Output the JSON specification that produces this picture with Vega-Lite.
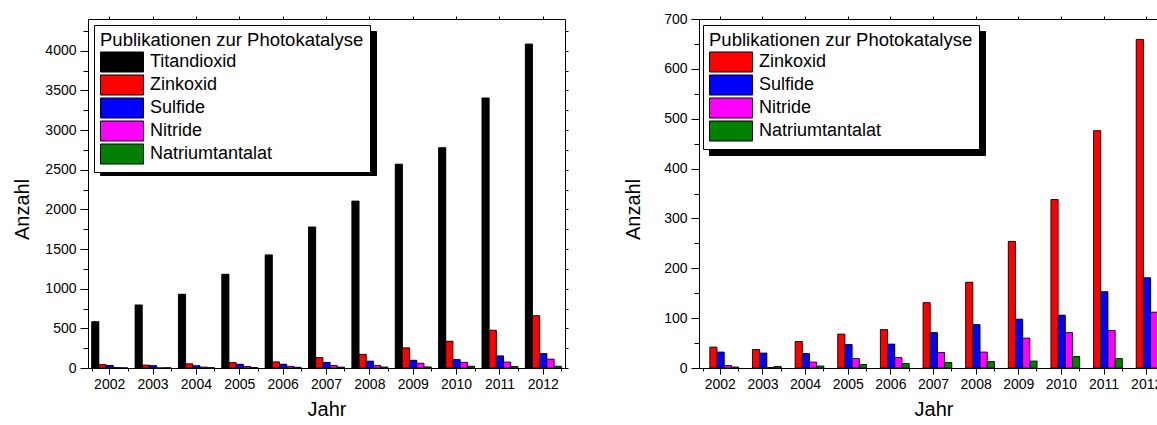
{
  "$schema": "https://vega.github.io/schema/vega-lite/v6.json",
  "padding": {"left": 11, "top": 11, "right": 0, "bottom": 0},
  "bounds": "flush",
  "spacing": 134,
  "config": {
    "font": "Liberation Sans",
    "view": {"stroke": "black", "strokeWidth": 1},
    "axis": {
      "labelFont": "Liberation Sans", "titleFont": "Liberation Sans",
      "labelColor": "black", "titleColor": "black", "tickColor": "black", "domainColor": "black",
      "grid": false, "labelFontSize": 14, "titleFontSize": 20, "titleFontWeight": "normal", "labelAngle": 0
    },
    "legend": {
      "orient": "none", "titleFont": "Liberation Sans", "labelFont": "Liberation Sans",
      "titleFontSize": 18.5, "titleFontWeight": "normal", "labelFontSize": 18,
      "titleLimit": 500, "labelLimit": 400,
      "symbolType": "M-1,-1H3.3V1H-1Z", "symbolSize": 400, "symbolStrokeWidth": 1,
      "labelOffset": 29, "rowPadding": -2, "padding": 6, "titlePadding": 2, "symbolOpacity": 1
    }
  },
  "datasets": {
    "pub": [
      {"Jahr": "2002", "Serie": "Titandioxid", "Anzahl": 584},
      {"Jahr": "2003", "Serie": "Titandioxid", "Anzahl": 795},
      {"Jahr": "2004", "Serie": "Titandioxid", "Anzahl": 930},
      {"Jahr": "2005", "Serie": "Titandioxid", "Anzahl": 1182},
      {"Jahr": "2006", "Serie": "Titandioxid", "Anzahl": 1426},
      {"Jahr": "2007", "Serie": "Titandioxid", "Anzahl": 1779},
      {"Jahr": "2008", "Serie": "Titandioxid", "Anzahl": 2105},
      {"Jahr": "2009", "Serie": "Titandioxid", "Anzahl": 2570},
      {"Jahr": "2010", "Serie": "Titandioxid", "Anzahl": 2778},
      {"Jahr": "2011", "Serie": "Titandioxid", "Anzahl": 3405},
      {"Jahr": "2012", "Serie": "Titandioxid", "Anzahl": 4085},
      {"Jahr": "2002", "Serie": "Zinkoxid", "Anzahl": 42},
      {"Jahr": "2003", "Serie": "Zinkoxid", "Anzahl": 37},
      {"Jahr": "2004", "Serie": "Zinkoxid", "Anzahl": 53},
      {"Jahr": "2005", "Serie": "Zinkoxid", "Anzahl": 68},
      {"Jahr": "2006", "Serie": "Zinkoxid", "Anzahl": 77},
      {"Jahr": "2007", "Serie": "Zinkoxid", "Anzahl": 131},
      {"Jahr": "2008", "Serie": "Zinkoxid", "Anzahl": 172},
      {"Jahr": "2009", "Serie": "Zinkoxid", "Anzahl": 254},
      {"Jahr": "2010", "Serie": "Zinkoxid", "Anzahl": 338},
      {"Jahr": "2011", "Serie": "Zinkoxid", "Anzahl": 476},
      {"Jahr": "2012", "Serie": "Zinkoxid", "Anzahl": 659},
      {"Jahr": "2002", "Serie": "Sulfide", "Anzahl": 32},
      {"Jahr": "2003", "Serie": "Sulfide", "Anzahl": 30},
      {"Jahr": "2004", "Serie": "Sulfide", "Anzahl": 29},
      {"Jahr": "2005", "Serie": "Sulfide", "Anzahl": 47},
      {"Jahr": "2006", "Serie": "Sulfide", "Anzahl": 48},
      {"Jahr": "2007", "Serie": "Sulfide", "Anzahl": 71},
      {"Jahr": "2008", "Serie": "Sulfide", "Anzahl": 87},
      {"Jahr": "2009", "Serie": "Sulfide", "Anzahl": 98},
      {"Jahr": "2010", "Serie": "Sulfide", "Anzahl": 106},
      {"Jahr": "2011", "Serie": "Sulfide", "Anzahl": 153},
      {"Jahr": "2012", "Serie": "Sulfide", "Anzahl": 181},
      {"Jahr": "2002", "Serie": "Nitride", "Anzahl": 5},
      {"Jahr": "2003", "Serie": "Nitride", "Anzahl": 1},
      {"Jahr": "2004", "Serie": "Nitride", "Anzahl": 12},
      {"Jahr": "2005", "Serie": "Nitride", "Anzahl": 19},
      {"Jahr": "2006", "Serie": "Nitride", "Anzahl": 21},
      {"Jahr": "2007", "Serie": "Nitride", "Anzahl": 31},
      {"Jahr": "2008", "Serie": "Nitride", "Anzahl": 32},
      {"Jahr": "2009", "Serie": "Nitride", "Anzahl": 60},
      {"Jahr": "2010", "Serie": "Nitride", "Anzahl": 71},
      {"Jahr": "2011", "Serie": "Nitride", "Anzahl": 75},
      {"Jahr": "2012", "Serie": "Nitride", "Anzahl": 112},
      {"Jahr": "2002", "Serie": "Natriumtantalat", "Anzahl": 2},
      {"Jahr": "2003", "Serie": "Natriumtantalat", "Anzahl": 3},
      {"Jahr": "2004", "Serie": "Natriumtantalat", "Anzahl": 4},
      {"Jahr": "2005", "Serie": "Natriumtantalat", "Anzahl": 7},
      {"Jahr": "2006", "Serie": "Natriumtantalat", "Anzahl": 9},
      {"Jahr": "2007", "Serie": "Natriumtantalat", "Anzahl": 11},
      {"Jahr": "2008", "Serie": "Natriumtantalat", "Anzahl": 13},
      {"Jahr": "2009", "Serie": "Natriumtantalat", "Anzahl": 14},
      {"Jahr": "2010", "Serie": "Natriumtantalat", "Anzahl": 23},
      {"Jahr": "2011", "Serie": "Natriumtantalat", "Anzahl": 19},
      {"Jahr": "2012", "Serie": "Natriumtantalat", "Anzahl": 22}
    ]
  },
  "hconcat": [
    {
      "width": 477,
      "height": 349,
      "data": {"name": "pub"},
      "layer": [
        {
          "mark": {"type": "bar"},
          "encoding": {
            "x": {"field": "Jahr", "type": "ordinal", "scale": {"paddingInner": 0.17, "paddingOuter": 0.085},
              "axis": {"orient": "bottom", "labels": false, "tickBand": "extent", "tickSize": 3, "domain": false, "title": null}},
            "xOffset": {"field": "Serie", "type": "nominal", "scale": {"domain": ["Titandioxid", "Zinkoxid", "Sulfide", "Nitride", "Natriumtantalat"]}},
            "y": {"field": "Anzahl", "type": "quantitative", "scale": {"domain": [0, 4400], "nice": false},
              "axis": {"orient": "left", "values": [250, 750, 1250, 1750, 2250, 2750, 3250, 3750, 4250], "labels": false, "tickSize": 5, "domain": false, "title": null}},
            "color": {"field": "Serie", "type": "nominal",
              "scale": {"domain": ["Titandioxid", "Zinkoxid", "Sulfide", "Nitride", "Natriumtantalat"], "range": ["#000000", "#000000", "#000000", "#000000", "#000000"]},
              "legend": {"title": null, "labelExpr": "''", "legendX": 12, "legendY": 12, "fillColor": "#000000", "strokeColor": "#000000", "labelColor": "#000000", "symbolStrokeColor": "#000000", "symbolType": "M-1,-1.1H25.1V1.1H-1Z", "rowPadding": 0, "zindex": 1}}
          }
        },
        {
          "mark": {"type": "bar", "stroke": "#000000", "strokeWidth": 0.8},
          "encoding": {
            "x": {"field": "Jahr", "type": "ordinal",
              "axis": {"orient": "bottom", "tickSize": 6, "labelPadding": 3, "title": "Jahr", "titlePadding": 8}},
            "xOffset": {"field": "Serie", "type": "nominal"},
            "y": {"field": "Anzahl", "type": "quantitative",
              "axis": {"orient": "left", "values": [0, 500, 1000, 1500, 2000, 2500, 3000, 3500, 4000], "format": "d", "tickSize": 8, "labelPadding": 4, "title": "Anzahl", "titleY": 190, "titleX": -56}},
            "color": {"field": "Serie", "type": "nominal",
              "scale": {"domain": ["Titandioxid", "Zinkoxid", "Sulfide", "Nitride", "Natriumtantalat"], "range": ["#000000", "#ff0000", "#0000ff", "#ff00ff", "#008000"]},
              "legend": {"title": "Publikationen zur Photokatalyse", "legendX": 6, "legendY": 6, "fillColor": "#ffffff", "strokeColor": "#000000", "titleColor": "#000000", "labelColor": "#000000", "symbolStrokeColor": "#000000", "zindex": 2}}
          }
        },
        {
          "mark": {"type": "bar", "opacity": 0},
          "encoding": {
            "x": {"field": "Jahr", "type": "ordinal",
              "axis": {"orient": "top", "labels": false, "tickSize": 3, "domain": false, "title": null}},
            "y": {"field": "Anzahl", "type": "quantitative", "stack": null,
              "axis": {"orient": "right", "values": [0, 250, 500, 750, 1000, 1250, 1500, 1750, 2000, 2250, 2500, 2750, 3000, 3250, 3500, 3750, 4000, 4250], "labels": false, "tickSize": 3, "domain": false, "title": null}}
          }
        }
      ],
      "resolve": {"axis": {"x": "independent", "y": "independent"}, "scale": {"color": "independent"}, "legend": {"color": "independent"}}
    },
    {
      "width": 469,
      "height": 349,
      "data": {"name": "pub"},
      "transform": [{"filter": "datum.Serie !== 'Titandioxid'"}],
      "layer": [
        {
          "mark": {"type": "bar"},
          "encoding": {
            "x": {"field": "Jahr", "type": "ordinal", "scale": {"paddingInner": 0.17, "paddingOuter": 0.085},
              "axis": {"orient": "bottom", "labels": false, "tickBand": "extent", "tickSize": 3, "domain": false, "title": null}},
            "xOffset": {"field": "Serie", "type": "nominal", "scale": {"domain": ["Titandioxid", "Zinkoxid", "Sulfide", "Nitride", "Natriumtantalat"]}},
            "y": {"field": "Anzahl", "type": "quantitative", "scale": {"domain": [0, 700], "nice": false},
              "axis": {"orient": "left", "values": [50, 150, 250, 350, 450, 550, 650], "labels": false, "tickSize": 5, "domain": false, "title": null}},
            "color": {"field": "Serie", "type": "nominal",
              "scale": {"domain": ["Zinkoxid", "Sulfide", "Nitride", "Natriumtantalat"], "range": ["#000000", "#000000", "#000000", "#000000"]},
              "legend": {"title": null, "labelExpr": "''", "legendX": 10, "legendY": 12, "fillColor": "#000000", "strokeColor": "#000000", "labelColor": "#000000", "symbolStrokeColor": "#000000", "symbolType": "M-1,-1.2H25.1V1.2H-1Z", "rowPadding": 0, "zindex": 1}}
          }
        },
        {
          "mark": {"type": "bar", "stroke": "#000000", "strokeWidth": 0.8},
          "encoding": {
            "x": {"field": "Jahr", "type": "ordinal",
              "axis": {"orient": "bottom", "tickSize": 6, "labelPadding": 3, "title": "Jahr", "titlePadding": 8}},
            "xOffset": {"field": "Serie", "type": "nominal"},
            "y": {"field": "Anzahl", "type": "quantitative",
              "axis": {"orient": "left", "values": [0, 100, 200, 300, 400, 500, 600, 700], "format": "d", "tickSize": 8, "labelPadding": 4, "title": "Anzahl", "titleY": 190, "titleX": -56}},
            "color": {"field": "Serie", "type": "nominal",
              "scale": {"domain": ["Zinkoxid", "Sulfide", "Nitride", "Natriumtantalat"], "range": ["#ff0000", "#0000ff", "#ff00ff", "#008000"]},
              "legend": {"title": "Publikationen zur Photokatalyse", "legendX": 4, "legendY": 6, "fillColor": "#ffffff", "strokeColor": "#000000", "titleColor": "#000000", "labelColor": "#000000", "symbolStrokeColor": "#000000", "zindex": 2}}
          }
        },
        {
          "mark": {"type": "bar", "opacity": 0},
          "encoding": {
            "x": {"field": "Jahr", "type": "ordinal",
              "axis": {"orient": "top", "labels": false, "tickSize": 3, "domain": false, "title": null}},
            "y": {"field": "Anzahl", "type": "quantitative", "stack": null,
              "axis": {"orient": "right", "labels": false, "tickSize": 3, "domain": false, "title": null}}
          }
        }
      ],
      "resolve": {"axis": {"x": "independent", "y": "independent"}, "scale": {"color": "independent"}, "legend": {"color": "independent"}}
    }
  ]
}
